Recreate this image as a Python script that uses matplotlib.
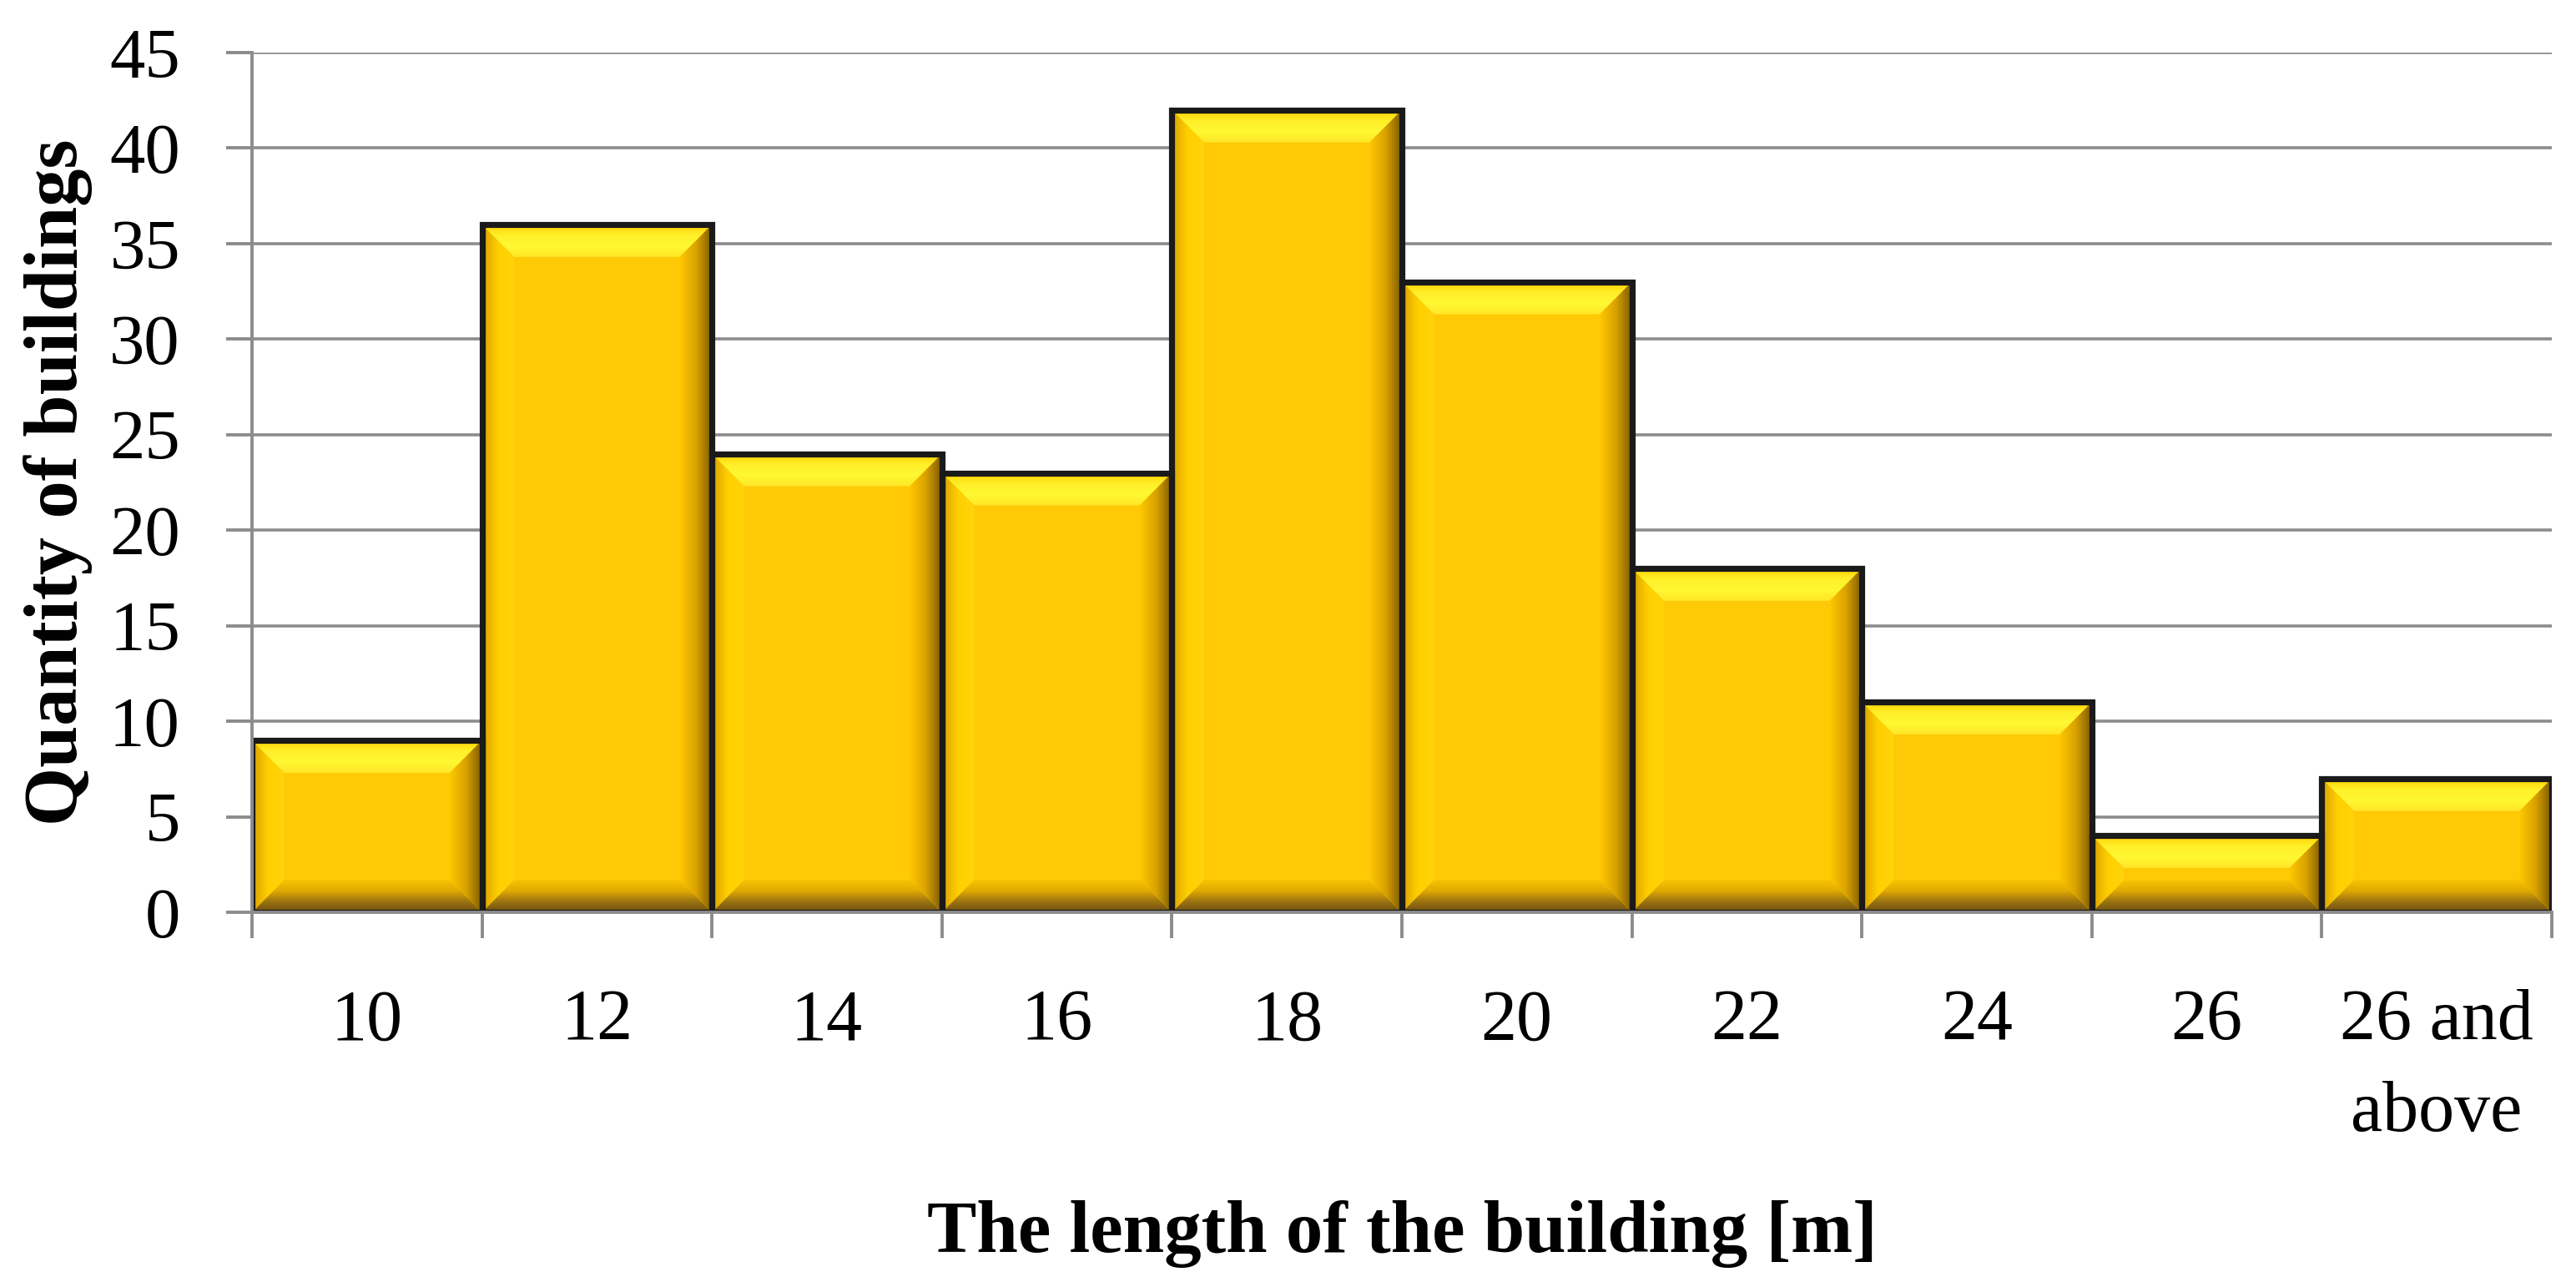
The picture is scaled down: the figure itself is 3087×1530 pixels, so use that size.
import matplotlib
matplotlib.use("Agg")
import matplotlib.pyplot as plt
import numpy as np
from matplotlib.patches import Polygon
from matplotlib.colors import LinearSegmentedColormap

# data
categories = ["10", "12", "14", "16", "18", "20", "22", "24", "26", "26 and\nabove"]
counts = [9, 36, 24, 23, 42, 33, 18, 11, 4, 7]
y_ticks = [0, 5, 10, 15, 20, 25, 30, 35, 40, 45]

plt.rcParams['font.family'] = ['Liberation Serif', 'DejaVu Serif']

fig = plt.figure(figsize=(30.87, 15.30), dpi=100)
ax = fig.add_axes([0.0978, 0.2856, 0.8928, 0.6732])

x = np.arange(len(categories))
face = "#FFC905"
ax.bar(x, counts, width=1.0, color=face, linewidth=0, zorder=2)

# bevel gradients (inner -> outer for top/bottom, left->right for sides)
cm_top = LinearSegmentedColormap.from_list("top", ["#FFE626", "#FFF832", "#FFF02A", "#FFD200"])
cm_bot = LinearSegmentedColormap.from_list("bot", ["#6E5010", "#9C7410", "#E2AA02", "#F8C404"])
cm_left = LinearSegmentedColormap.from_list("left", ["#D9A000", "#FFD000", "#FFD40A"])
cm_right = LinearSegmentedColormap.from_list("right", ["#FFC800", "#D9A200", "#7A5800"])
vgrad = np.linspace(0, 1, 256).reshape(-1, 1)
hgrad = np.linspace(0, 1, 256).reshape(1, -1)

bx = 0.14
for xi, h in zip(x, counts):
    x0, x1 = xi - 0.5, xi + 0.5
    by = min(1.7, h * 0.42)
    pieces = [
        ([(x0, h), (x1, h), (x1 - bx, h - by), (x0 + bx, h - by)], cm_top, vgrad, (x0, x1, h - by, h)),
        ([(x0, 0), (x1, 0), (x1 - bx, by), (x0 + bx, by)], cm_bot, vgrad, (x0, x1, 0, by)),
        ([(x0, 0), (x0 + bx, by), (x0 + bx, h - by), (x0, h)], cm_left, hgrad, (x0, x0 + bx, 0, h)),
        ([(x1, 0), (x1 - bx, by), (x1 - bx, h - by), (x1, h)], cm_right, hgrad, (x1 - bx, x1, 0, h)),
    ]
    for verts, cmap, grad, ext in pieces:
        poly = Polygon(verts, closed=True, transform=ax.transData)
        im = ax.imshow(grad, cmap=cmap, extent=ext, origin="lower", aspect="auto",
                       interpolation="bilinear", zorder=3)
        im.set_clip_path(poly)

ax.bar(x, counts, width=1.0, fill=False, edgecolor="#1a1a1a", linewidth=5.2, zorder=4)

ax.set_xlim(-0.5, len(categories) - 0.5)
ax.set_ylim(0, 45)
ax.set_yticks(y_ticks)
ax.set_xticks(x)
ax.set_xticklabels(categories, linespacing=1.5)
ax.set_xticks(np.arange(len(categories) + 1) - 0.5, minor=True)

ax.grid(axis="y", color="#8c8c8c", linewidth=2.6, zorder=1)
ax.set_axisbelow(True)
for s in ["top", "right"]:
    ax.spines[s].set_visible(False)
for s in ["left", "bottom"]:
    ax.spines[s].set_color("#8c8c8c")
    ax.spines[s].set_linewidth(2.8)
    ax.spines[s].set_zorder(5)

ax.tick_params(axis="y", length=22, width=2.8, color="#8c8c8c", labelsize=61, pad=40)
ax.tick_params(axis="x", which="major", length=0, labelsize=62, pad=66)
ax.tick_params(axis="x", which="minor", length=22, width=2.8, color="#8c8c8c")

ax.set_ylabel("Quantity of buildings", fontsize=65, fontweight="bold", labelpad=14)
ax.set_xlabel("The length of the building [m]", fontsize=64, fontweight="bold", labelpad=46)

fig.savefig("out.png", dpi=100)
